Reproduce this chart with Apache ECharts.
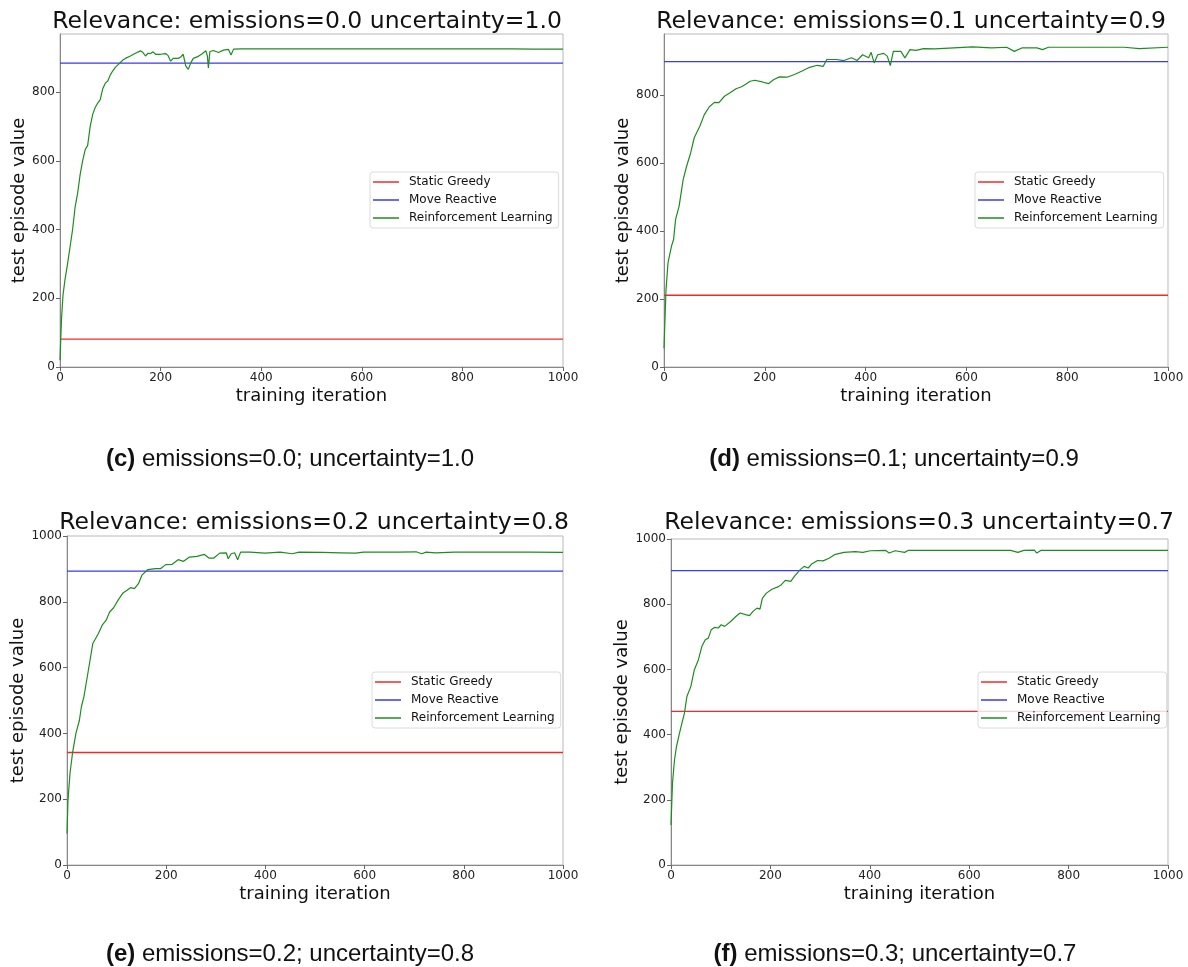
<!DOCTYPE html>
<html><head><meta charset="utf-8">
<script src="https://cdn.jsdelivr.net/npm/echarts@6/dist/echarts.min.js"></script>
<style>html,body{margin:0;padding:0;background:#fff}#c{width:1188px;height:967px}</style>
</head><body><div id="c"></div>
<script>
// ---- data ----
const panelTitles = ["Relevance: emissions=0.0 uncertainty=1.0","Relevance: emissions=0.1 uncertainty=0.9","Relevance: emissions=0.2 uncertainty=0.8","Relevance: emissions=0.3 uncertainty=0.7"];
const captionTags = ["(c)","(d)","(e)","(f)"];
const captionTexts = ["emissions=0.0; uncertainty=1.0","emissions=0.1; uncertainty=0.9","emissions=0.2; uncertainty=0.8","emissions=0.3; uncertainty=0.7"];
const seriesNames = ["Static Greedy","Move Reactive","Reinforcement Learning"];
const staticGreedy = [81, 211, 342, 471];
const moveReactive = [884, 898, 893, 903];
const xTicks = [0,200,400,600,800,1000];
const yTicksCD = [0,200,400,600,800];
const yTicksEF = [0,200,400,600,800,1000];

const iterC = [0,3,6,10,15,20,25,30,35,40,45,50,55,60,65,70,75,80,85,90,95,100,105,110,115,120,125,130,140,150,160,165,170,175,180,185,190,200,210,215,220,225,235,240,245,250,255,260,265,275,282,290,293,295,298,305,315,325,335,340,345,360,400,500,600,700,800,900,940,1000];
const valC = [20,140,210,255,300,350,400,465,505,560,600,632,645,700,735,755,768,778,810,826,832,850,862,872,879,886,893,898,905,913,920,915,905,913,912,917,910,910,912,906,890,898,898,902,910,876,866,885,898,904,911,920,905,870,918,921,915,922,924,908,925,926,926,926,926,926,926,926,925,925];

const iterD = [0,4,8,15,19,23,30,38,45,53,60,71,80,90,100,109,120,131,143,154,162,171,180,195,207,218,229,244,259,274,289,304,316,323,342,357,372,383,394,406,411,417,424,436,443,449,455,470,478,488,500,515,537,575,612,650,680,695,710,740,751,763,838,913,943,1000];
const valD = [55,228,307,356,375,434,473,551,591,630,674,708,742,765,778,777,796,806,818,824,831,840,843,838,833,845,853,852,860,870,881,887,884,904,904,901,909,901,918,909,925,894,918,922,914,886,928,928,909,933,931,936,935,938,941,938,940,928,938,938,933,940,940,940,936,940];

const iterE = [0,2,6,11,18,25,29,34,42,52,63,71,79,86,94,103,113,121,128,136,144,151,163,178,189,199,212,224,235,247,262,277,286,296,308,321,325,331,338,344,350,369,399,430,454,468,514,552,582,598,666,704,715,724,743,781,857,934,1000];
const valE = [96,197,278,339,400,440,481,511,582,673,703,729,744,769,782,805,827,835,843,840,855,881,898,901,901,913,914,928,923,936,938,944,933,933,948,949,931,946,949,928,951,951,948,951,946,951,950,949,948,951,951,952,946,951,949,951,951,951,950];

const iterF = [0,3,7,11,17,22,27,32,40,47,55,62,69,75,81,88,95,101,108,120,131,139,150,158,165,173,179,184,192,203,215,222,230,241,249,260,268,276,283,295,306,318,329,348,371,386,401,432,439,451,470,477,531,607,683,698,710,731,736,744,835,911,1000];
const valF = [123,251,322,363,404,435,466,517,548,599,629,670,691,696,722,729,727,737,732,747,763,773,768,765,778,788,785,819,834,846,853,860,873,870,887,906,916,911,923,934,933,941,952,959,961,959,964,965,957,964,959,965,965,965,965,959,965,966,957,965,965,965,965];

const rlIters = [iterC, iterD, iterE, iterF];
const rlVals = [valC, valD, valE, valF];
const yMax = [969, 979, 1000, 1000];
const yTickSets = [yTicksCD, yTicksCD, yTicksEF, yTicksEF];

// ---- layout ----
const grids = [
  {left:60, top:34, width:503, height:333},
  {left:664, top:34, width:504, height:333},
  {left:67, top:536, width:496, height:329},
  {left:671, top:539, width:497, height:326}
];
const legendPos = [{left:370,top:172},{left:975,top:172},{left:372,top:672},{left:978,top:672}];
const titleX = [302, 906, 309, 914];
const titleTop = [5, 5, 506, 506];
const captionPos = [{x:285,y:442},{x:889,y:442},{x:285,y:937},{x:890,y:937}];
const colors = ['#f02a2a', '#3a3aee', '#1f8c1f'];

const font = 'DejaVu Sans';
const option = {
  animation:false,
  backgroundColor:'#fff',
  title:[], legend:[], grid:[], xAxis:[], yAxis:[], series:[]
};

for (let i=0;i<4;i++){
  const g = grids[i];
  option.grid.push({left:g.left, top:g.top, width:g.width, height:g.height, show:true, borderColor:'#b8b8b8', borderWidth:1, containLabel:false});
  option.title.push({text:panelTitles[i], left:titleX[i], top:titleTop[i], textAlign:'center',
    textStyle:{fontFamily:font, fontSize:23.5, fontWeight:'normal', color:'#111'}});
  const cp = captionPos[i];
  option.title.push({text:'{b|'+captionTags[i]+'} '+captionTexts[i], left:cp.x, top:cp.y, textAlign:'center',
    textStyle:{fontFamily:'Liberation Sans', fontSize:24, fontWeight:'normal', color:'#111',
      rich:{b:{fontFamily:'Liberation Sans', fontSize:24, fontWeight:'bold', color:'#111'}}}});
  option.xAxis.push({type:'value', gridIndex:i, min:0, max:1000, interval:200,
    name:'training iteration', nameLocation:'middle', nameGap:20,
    nameTextStyle:{fontFamily:font, fontSize:18, color:'#111'},
    axisLine:{show:true, onZero:false, lineStyle:{color:'#888', width:1}},
    axisTick:{show:true, inside:false, length:4, lineStyle:{color:'#666'}, customValues:xTicks},
    axisLabel:{fontFamily:font, fontSize:12, color:'#222', margin:5, customValues:xTicks, formatter:v=>String(v)},
    splitLine:{show:false}});
  option.yAxis.push({type:'value', gridIndex:i, min:0, max:yMax[i], interval:200,
    name:'test episode value', nameLocation:'middle', nameGap:27,
    nameTextStyle:{fontFamily:font, fontSize:18, color:'#111'},
    axisLine:{show:true, onZero:false, lineStyle:{color:'#888', width:1}},
    axisTick:{show:true, inside:false, length:4, lineStyle:{color:'#666'}, customValues:yTickSets[i]},
    axisLabel:{fontFamily:font, fontSize:12, color:'#222', margin:5, customValues:yTickSets[i], formatter:v=>String(v)},
    splitLine:{show:false}});
  const lp = legendPos[i];
  option.legend.push({data:seriesNames, orient:'vertical', left:lp.left, top:lp.top,
    icon:'rect', itemWidth:26, itemHeight:1.5, itemGap:4,
    padding:[3,6,3,3], borderColor:'#dcdcdc', borderWidth:1, borderRadius:3, backgroundColor:'rgba(255,255,255,0.8)',
    textStyle:{fontFamily:font, fontSize:12, color:'#111', lineHeight:14, padding:[0,0,0,5]}});
  option.series.push({name:seriesNames[0], type:'line', xAxisIndex:i, yAxisIndex:i, showSymbol:false, symbol:'none',
    data:[[0,staticGreedy[i]],[1000,staticGreedy[i]]], lineStyle:{color:colors[0], width:1.3}, itemStyle:{color:colors[0]}});
  option.series.push({name:seriesNames[1], type:'line', xAxisIndex:i, yAxisIndex:i, showSymbol:false, symbol:'none',
    data:[[0,moveReactive[i]],[1000,moveReactive[i]]], lineStyle:{color:colors[1], width:1.3}, itemStyle:{color:colors[1]}});
  option.series.push({name:seriesNames[2], type:'line', xAxisIndex:i, yAxisIndex:i, showSymbol:false, symbol:'none',
    data:rlIters[i].map((x,k)=>[x, rlVals[i][k]]), lineStyle:{color:colors[2], width:1.2}, itemStyle:{color:colors[2]}});
}

const chart = echarts.init(document.getElementById('c'), null, {renderer:'canvas'});
chart.setOption(option);
</script></body></html>
